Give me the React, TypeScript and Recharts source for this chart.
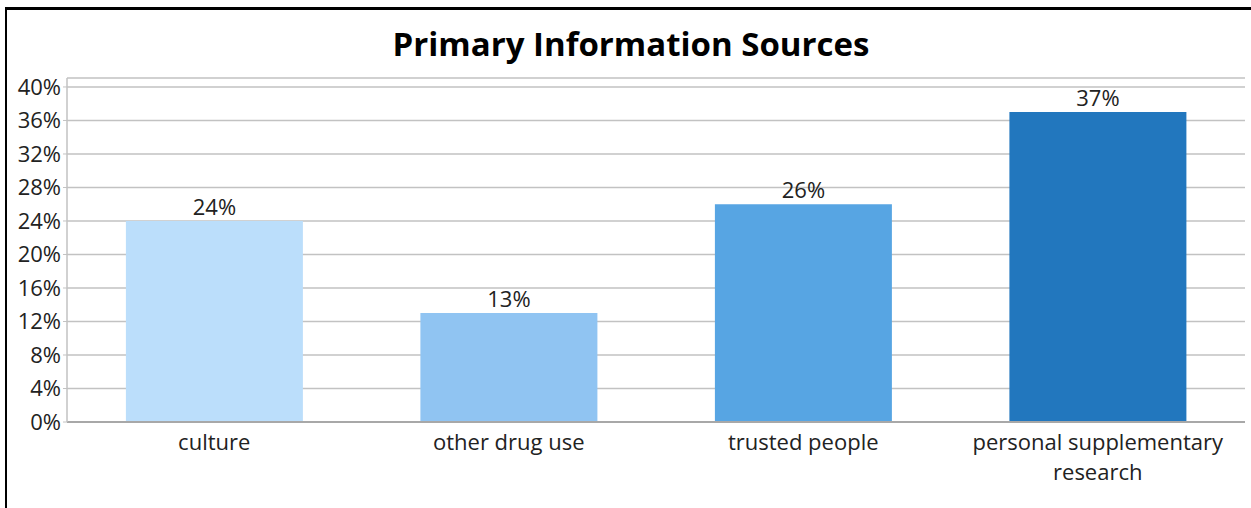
import React from 'react';
import { BarChart, Bar, XAxis, YAxis, CartesianGrid, Cell, LabelList } from 'recharts';

const categories = ['culture', 'other drug use', 'trusted people', 'personal supplementary research'];
const shares = [24, 13, 26, 37];
const barColors = ['#BBDEFB', '#90C4F2', '#57A5E3', '#2277BE'];
const yTicks = [0, 4, 8, 12, 16, 20, 24, 28, 32, 36, 40];

const data = categories.map((name, i) => ({ name, value: shares[i] }));

const FONT = '"Open Sans", "Noto Sans", sans-serif';

// greedy wrap by character count, good enough for these labels
const wrap = (s: string, max = 24) => {
  const lines: string[] = [];
  let cur = '';
  s.split(' ').forEach(w => {
    if (cur && (cur + ' ' + w).length > max) {
      lines.push(cur);
      cur = w;
    } else {
      cur = cur ? cur + ' ' + w : w;
    }
  });
  if (cur) lines.push(cur);
  return lines;
};

const CategoryTick = (props: any) => {
  const { x, y, payload } = props;
  const lines = wrap(String(payload.value));
  return (
    <text x={x} y={y + 20} textAnchor="middle" fontSize={22} fontFamily={FONT} fill="#222">
      {lines.map((l, i) => (
        <tspan key={i} x={x} dy={i === 0 ? 0 : 30}>
          {l}
        </tspan>
      ))}
    </text>
  );
};

const App: React.FC = () => {
  return (
    <div style={{ position: 'absolute', left: 0, top: 0, width: 1251, height: 508, overflow: 'hidden', background: '#fff' }}>
      <div
        style={{
          position: 'absolute',
          left: 0,
          top: 24,
          width: 1262,
          textAlign: 'center',
          fontFamily: FONT,
          fontWeight: 700,
          fontSize: 33,
          lineHeight: '40px',
          color: '#000',
        }}
      >
        Primary Information Sources
      </div>
      <div style={{ position: 'absolute', left: 0, top: 0 }}>
        <BarChart
          width={1251}
          height={508}
          data={data}
          margin={{ top: 78, right: 6, bottom: 0, left: 0 }}
          barCategoryGap="20%"
        >
          <CartesianGrid vertical={false} stroke="#c2c2c2" strokeWidth={1.5} />
          <XAxis
            dataKey="name"
            height={86}
            axisLine={{ stroke: '#a8a8a8', strokeWidth: 2 }}
            tickLine={false}
            tick={(p: any) => <CategoryTick {...p} />}
            interval={0}
          />
          <YAxis
            width={67}
            domain={[0, 41.07]}
            ticks={yTicks}
            interval={0}
            tickFormatter={(v: number) => `${v}%`}
            axisLine={{ stroke: '#c2c2c2', strokeWidth: 1.5 }}
            tickLine={{ stroke: '#c2c2c2' }}
            tickSize={4}
            tick={{ fontSize: 22, fontFamily: FONT, fill: '#222' }}
          />
          <Bar dataKey="value" isAnimationActive={false}>
            {data.map((d, i) => (
              <Cell key={d.name} fill={barColors[i]} />
            ))}
            <LabelList
              dataKey="value"
              position="top"
              offset={6}
              formatter={(v: any) => `${v}%`}
              style={{ fontSize: 22, fontFamily: FONT, fill: '#222' }}
            />
          </Bar>
        </BarChart>
      </div>
      <div
        style={{
          position: 'absolute',
          left: 5,
          top: 7,
          width: 1270,
          height: 530,
          borderLeft: '2px solid #000',
          borderTop: '3px solid #000',
          pointerEvents: 'none',
        }}
      />
    </div>
  );
};

export default App;
